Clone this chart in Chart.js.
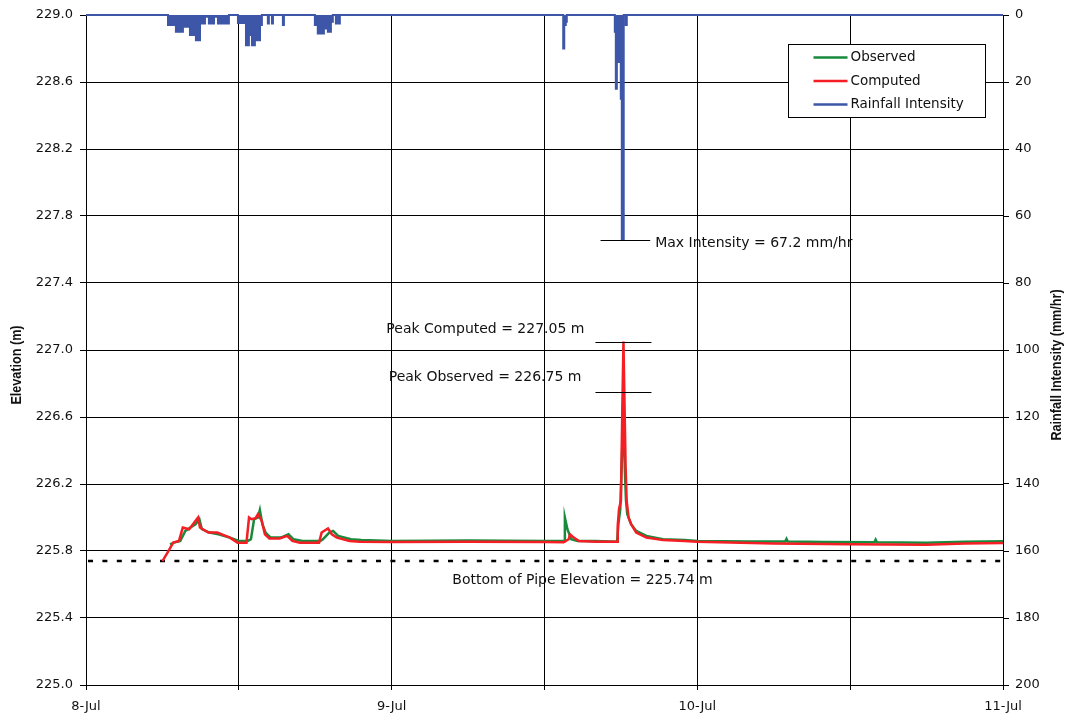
<!DOCTYPE html>
<html>
<head>
<meta charset="utf-8">
<script src="https://cdn.jsdelivr.net/npm/chart.js@4.4.1/dist/chart.umd.min.js"></script>
<style>
  html, body { margin: 0; padding: 0; background: #fff; }
</style>
</head>
<body>
<canvas id="levelChart" width="1067" height="719"></canvas>
<script>
// time axis in hours from 8-Jul 00:00
const dayLabels = ['8-Jul', '9-Jul', '10-Jul', '11-Jul'];

// computed water level (m)
const compHours = [
  6.0, 6.4, 6.85, 7.3, 7.6, 8.1, 8.5, 8.8, 8.95, 9.6, 10.3, 11.3, 11.9,
  12.6, 12.8, 13.0, 13.3, 13.5, 13.8, 14.05, 14.4, 15.2, 15.8, 16.2, 16.8,
  18.3, 18.5, 19.0, 19.3, 19.7, 20.7, 21.5, 24, 30, 36,
  37.5, 37.9, 38.0, 38.3, 38.7, 40,
  41.7, 41.75, 41.85, 42.0, 42.1, 42.2, 42.3, 42.37, 42.45, 42.6, 42.8, 43.2, 44, 45.3, 47,
  48, 54, 60, 66, 69, 72
];
const compElev = [
  225.74, 225.79, 225.85, 225.86, 225.94, 225.93, 225.97, 226.0, 225.94, 225.91, 225.91, 225.88, 225.85,
  225.85, 226.0, 225.99, 225.995, 226.02, 225.98, 225.90, 225.875, 225.875, 225.89, 225.86, 225.85,
  225.85, 225.91, 225.935, 225.9, 225.88, 225.86, 225.855, 225.853, 225.855, 225.853,
  225.852, 225.87, 225.90, 225.88, 225.86, 225.855,
  225.855, 225.95, 226.05, 226.1, 226.6, 227.05, 226.6, 226.3, 226.1, 226.0, 225.96, 225.91, 225.88, 225.865, 225.86,
  225.855, 225.845, 225.84, 225.838, 225.845, 225.848
];

// observed water level (m)
const obsHours = [
  6.6, 6.9, 7.4, 7.8, 8.2, 8.6, 8.9, 9.1, 9.7, 10.4, 11.3, 12.0,
  12.7, 12.95, 13.2, 13.5, 13.65, 13.85, 14.1, 14.5, 15.3, 15.9, 16.3, 17,
  18.4, 18.6, 19.1, 19.4, 19.8, 20.8, 21.6, 24, 30, 36,
  37.55, 37.6, 37.8, 38.1, 38.6, 40,
  41.7, 41.8, 41.95, 42.1, 42.2, 42.3, 42.4, 42.5, 42.8, 43.2, 44, 45.3, 47,
  48, 52, 54.9, 55, 55.1, 58, 61.9, 62, 62.1, 66, 69, 72
];
const obsElev = [
  225.84, 225.85, 225.86, 225.92, 225.94, 225.96, 225.99, 225.93, 225.91, 225.9, 225.88, 225.86,
  225.86, 225.87, 225.99, 226.0, 226.045, 225.96, 225.91, 225.88, 225.88, 225.9, 225.87, 225.86,
  225.86, 225.87, 225.91, 225.92, 225.89, 225.87, 225.865, 225.86, 225.862, 225.86,
  225.86, 226.0, 225.93, 225.87, 225.86, 225.86,
  225.855, 225.96, 226.05, 226.4, 226.75, 226.3, 226.1, 226.02, 225.96, 225.92, 225.89, 225.87, 225.865,
  225.86, 225.857, 225.856, 225.872, 225.856, 225.853, 225.852, 225.868, 225.852, 225.85, 225.855, 225.858
];

// rainfall intensity (mm/hr), held until the next reading
const rainHours = [
  0,
  6.44, 7.06, 7.61, 8.16, 8.63, 8.95, 9.34, 9.65, 10.05, 10.36, 11.22,
  11.93, 12.56, 12.79, 13.03, 13.26, 13.66, 13.81, 14.28, 14.36, 14.6, 14.68, 15.46, 15.54,
  17.97, 18.2, 18.68, 18.99, 19.23, 19.38, 19.62, 19.7, 19.86, 19.93,
  37.47, 37.55, 37.67, 37.75,
  41.52, 41.6, 41.68, 41.83, 41.99, 42.07, 42.22, 42.38, 42.46,
  72
];
const rainValues = [
  0,
  3, 5, 3.5, 6, 7.5, 2.5, 0.5, 2.5, 0.5, 2.5, 0,
  2.4, 9, 6, 9, 7.5, 3, 0, 2.5, 0, 2.5, 0, 3, 0,
  3, 5.5, 4, 5, 2, 0, 2.5, 0, 2.5, 0,
  10, 3, 2, 0,
  5, 22, 12, 14, 25, 67.2, 0, 3, 0,
  0
];

const maxIntensity = 67.2;
const peakComputed = 227.05;
const peakObserved = 226.75;
const pipeBottom = 225.74;
const markerSpan = [40.0, 44.4];
const intensitySpan = [40.4, 44.3];

const OBS_COLOR = '#178a3c';
const COMP_COLOR = '#f41e24';
const RAIN_COLOR = '#3d56a8';
const TEXT_COLOR = '#111';
const tickFont = { family: 'DejaVu Sans', size: 13 };

const toPoints = (xs, ys) => xs.map((x, i) => ({ x: x, y: ys[i] }));

// dashed pipe invert line, drawn under the series
const pipeLine = {
  id: 'pipeLine',
  beforeDatasetsDraw(chart) {
    const { ctx, chartArea, scales } = chart;
    const y = scales.y.getPixelForValue(pipeBottom);
    ctx.save();
    ctx.strokeStyle = '#000';
    ctx.lineWidth = 2.5;
    ctx.setLineDash([5, 9.4]);
    ctx.beginPath();
    ctx.moveTo(chartArea.left + 2, y);
    ctx.lineTo(chartArea.right, y);
    ctx.stroke();
    ctx.restore();
  }
};

// peak markers, labels, axis titles and the legend box
const notes = {
  id: 'notes',
  afterDatasetsDraw(chart) {
    const { ctx, chartArea, scales } = chart;
    const x = scales.x, y = scales.y, rain = scales.rain;
    ctx.save();
    ctx.strokeStyle = '#000';
    ctx.lineWidth = 1;
    const hline = (x0, x1, py) => {
      ctx.beginPath();
      ctx.moveTo(x.getPixelForValue(x0), Math.round(py) + 0.5);
      ctx.lineTo(x.getPixelForValue(x1), Math.round(py) + 0.5);
      ctx.stroke();
    };
    const yMax = rain.getPixelForValue(maxIntensity);
    const yComp = y.getPixelForValue(peakComputed);
    const yObs = y.getPixelForValue(peakObserved);
    const yPipe = y.getPixelForValue(pipeBottom);
    hline(intensitySpan[0], intensitySpan[1], yMax);
    hline(markerSpan[0], markerSpan[1], yComp);
    hline(markerSpan[0], markerSpan[1], yObs);

    ctx.fillStyle = TEXT_COLOR;
    ctx.font = '14px "DejaVu Sans"';
    ctx.textBaseline = 'middle';
    ctx.textAlign = 'left';
    ctx.fillText('Max Intensity = ' + maxIntensity + ' mm/hr', x.getPixelForValue(intensitySpan[1]) + 5, yMax + 3);
    ctx.textAlign = 'right';
    ctx.fillText('Peak Computed = ' + peakComputed.toFixed(2) + ' m', x.getPixelForValue(markerSpan[0]) - 11, yComp - 12);
    ctx.fillText('Peak Observed = ' + peakObserved.toFixed(2) + ' m', x.getPixelForValue(markerSpan[0]) - 14, yObs - 15);
    ctx.textAlign = 'center';
    ctx.fillText('Bottom of Pipe Elevation = ' + pipeBottom.toFixed(2) + ' m', (chartArea.left + chartArea.right) / 2 + 38, yPipe + 19);

    // axis titles, both reading bottom to top, squeezed like a narrow face
    ctx.font = 'bold 14px "Liberation Sans", sans-serif';
    const midY = (chartArea.top + chartArea.bottom) / 2 + 15;
    [['Elevation (m)', 17], ['Rainfall Intensity (mm/hr)', 1057]].forEach(([txt, px]) => {
      ctx.save();
      ctx.translate(px, midY);
      ctx.rotate(-Math.PI / 2);
      ctx.scale(0.9, 1);
      ctx.fillText(txt, 0, 0);
      ctx.restore();
    });

    // legend
    const box = { left: 788.5, top: 44.5, width: 197, height: 73 };
    ctx.fillStyle = '#fff';
    ctx.fillRect(box.left, box.top, box.width, box.height);
    ctx.strokeStyle = '#000';
    ctx.lineWidth = 1;
    ctx.strokeRect(box.left, box.top, box.width, box.height);
    ctx.font = '13.5px "DejaVu Sans"';
    ctx.textAlign = 'left';
    chart.data.datasets.forEach((ds, i) => {
      const ry = box.top + 13 + i * 23.5;
      ctx.strokeStyle = ds.borderColor;
      ctx.lineWidth = 2.5;
      ctx.beginPath();
      ctx.moveTo(box.left + 25, ry);
      ctx.lineTo(box.left + 59, ry);
      ctx.stroke();
      ctx.fillStyle = TEXT_COLOR;
      ctx.fillText(ds.label, box.left + 62, ry);
    });
    ctx.restore();
  }
};

new Chart(document.getElementById('levelChart'), {
  type: 'line',
  data: {
    datasets: [
      { label: 'Observed', data: toPoints(obsHours, obsElev), borderColor: OBS_COLOR, borderWidth: 2.5,
        pointRadius: 0, yAxisID: 'y', order: 2 },
      { label: 'Computed', data: toPoints(compHours, compElev), borderColor: COMP_COLOR, borderWidth: 2.5,
        pointRadius: 0, yAxisID: 'y', order: 1 },
      { label: 'Rainfall Intensity', data: toPoints(rainHours, rainValues), borderColor: RAIN_COLOR, borderWidth: 2,
        backgroundColor: RAIN_COLOR, fill: 'origin', clip: 3,
        pointRadius: 0, stepped: true, yAxisID: 'rain', order: 0 }
    ]
  },
  options: {
    responsive: false,
    animation: false,
    layout: { padding: { top: 15, left: 0, right: 0, bottom: 0 } },
    plugins: { legend: { display: false }, tooltip: { enabled: false } },
    scales: {
      x: {
        type: 'linear', min: 0, max: 72,
        ticks: {
          stepSize: 12, autoSkip: false, maxRotation: 0, font: tickFont, color: TEXT_COLOR, padding: 9,
          callback: v => (v % 24 === 0 ? dayLabels[v / 24] : '')
        },
        grid: { color: '#000', lineWidth: 1, tickLength: 5, tickColor: '#000' },
        border: { color: '#000', width: 1 },
        afterFit: s => { s.height = 34; }
      },
      y: {
        position: 'left', min: 225, max: 229,
        ticks: { stepSize: 0.4, font: tickFont, color: TEXT_COLOR, padding: 7, callback: v => v.toFixed(1) },
        grid: { color: '#000', lineWidth: 1, tickLength: 6, tickColor: '#000' },
        border: { color: '#000', width: 1 },
        afterFit: s => { s.width = 86; }
      },
      rain: {
        position: 'right', min: 0, max: 200, reverse: true,
        ticks: { stepSize: 20, font: tickFont, color: TEXT_COLOR, padding: 6 },
        grid: { drawOnChartArea: false, tickLength: 6, tickColor: '#000' },
        border: { color: '#000', width: 1 },
        afterFit: s => { s.width = 64; }
      }
    }
  },
  plugins: [pipeLine, notes]
});
</script>
</body>
</html>
